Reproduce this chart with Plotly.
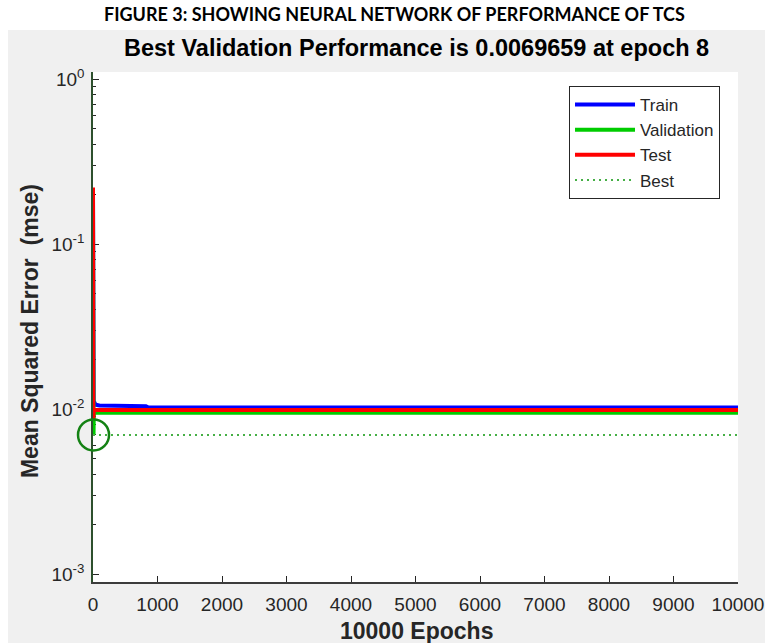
import plotly.graph_objects as go

# ---- data ----
train_epochs = [0, 2, 5, 10, 20, 40, 100, 300, 600, 820, 860, 1500, 3000, 6000, 10000]
train_mse = [0.21, 0.05, 0.013, 0.0112, 0.0110, 0.0106, 0.0105, 0.0105, 0.0105, 0.0104, 0.0102, 0.0102, 0.0102, 0.0102, 0.0102]

val_epochs = [0, 2, 4, 6, 8, 12, 30, 100, 1000, 3000, 6000, 10000]
val_mse = [0.20, 0.0095, 0.0087, 0.0078, 0.0069659, 0.0092, 0.0095, 0.0095, 0.0095, 0.0095, 0.0095, 0.0095]

test_epochs = [0, 2, 4, 8, 12, 30, 100, 1000, 3000, 6000, 10000]
test_mse = [0.22, 0.03, 0.0087, 0.0088, 0.0098, 0.00986, 0.00986, 0.00986, 0.00986, 0.00986, 0.00986]

best_epoch = 8
best_perf = 0.0069659
best_line_epochs = [0, 10000]

x_ticks = [0, 1000, 2000, 3000, 4000, 5000, 6000, 7000, 8000, 9000, 10000]
y_ticks = [1e-3, 1e-2, 1e-1, 1e0]
y_tick_text = ["10<sup>-3</sup>", "10<sup>-2</sup>", "10<sup>-1</sup>", "10<sup>0</sup>"]
y_minor = [m * 10.0 ** e for e in (-3, -2, -1) for m in range(2, 10)]

caption = "FIGURE 3: SHOWING NEURAL NETWORK OF PERFORMANCE OF TCS"
title = "Best Validation Performance is 0.0069659 at epoch 8"
x_title = "10000 Epochs"
y_title = "Mean Squared Error  (mse)"

TXT = "rgb(38,38,38)"
FONT = "Liberation Sans, Arial, sans-serif"

fig = go.Figure()
fig.add_trace(go.Scatter(x=train_epochs, y=train_mse, mode="lines", name="Train",
                         line=dict(color="rgb(0,0,255)", width=4)))
fig.add_trace(go.Scatter(x=val_epochs, y=val_mse, mode="lines", name="Validation",
                         line=dict(color="rgb(0,204,0)", width=4)))
fig.add_trace(go.Scatter(x=test_epochs, y=test_mse, mode="lines", name="Test",
                         line=dict(color="rgb(255,0,0)", width=4)))
fig.add_trace(go.Scatter(x=best_line_epochs, y=[best_perf] * len(best_line_epochs), mode="lines",
                         name="Best", line=dict(color="rgb(70,175,70)", width=2, dash="2px,4px")))
fig.add_trace(go.Scatter(x=[best_epoch], y=[best_perf], mode="markers", showlegend=False,
                         cliponaxis=False,
                         marker=dict(symbol="circle-open", size=31, color="rgb(20,130,20)",
                                     line=dict(width=2.5, color="rgb(20,130,20)"))))

fig.update_layout(
    width=765, height=643,
    margin=dict(l=93, r=27, t=72, b=61, pad=0, autoexpand=False),
    paper_bgcolor="white",
    plot_bgcolor="white",
    font=dict(family=FONT, color=TXT, size=19),
    showlegend=True,
    legend=dict(x=0.738, y=0.9725, xanchor="left", yanchor="top",
                bgcolor="white", bordercolor=TXT, borderwidth=1,
                font=dict(family=FONT, size=17, color=TXT),
                itemwidth=60, tracegroupgap=0),
    shapes=[
        dict(type="rect", xref="paper", yref="paper", x0=-0.1318, x1=1.06, y0=-0.15, y1=1.0824,
             fillcolor="rgb(240,240,240)", line=dict(width=0), layer="below"),
        dict(type="rect", xref="paper", yref="paper", x0=0, x1=1, y0=0, y1=1,
             fillcolor="white", line=dict(width=0), layer="below"),
    ],
    annotations=[
        dict(text="<b>" + caption + "</b>", xref="paper", yref="paper", x=0.4667, y=(582 - 14) / 510,
             xanchor="center", yanchor="middle", showarrow=False,
             font=dict(family="Lato, Noto Sans, sans-serif", size=18, color="black")),
        dict(text="<b>" + title + "</b>", xref="paper", yref="paper", x=0.5008, y=1.048,
             xanchor="center", yanchor="middle", showarrow=False,
             font=dict(family=FONT, size=23.5, color="black")),
        dict(text="<b>" + x_title + "</b>", xref="paper", yref="paper", x=0.502, y=-0.096,
             xanchor="center", yanchor="middle", showarrow=False,
             font=dict(family=FONT, size=23, color=TXT)),
        dict(text="<b>" + y_title + "</b>", xref="paper", yref="paper", x=-0.0977, y=0.492,
             xanchor="center", yanchor="middle", showarrow=False, textangle=-90,
             font=dict(family=FONT, size=23, color=TXT)),
    ],
)

fig.update_xaxes(range=[0, 10000], tickmode="array", tickvals=x_ticks,
                 ticktext=[str(v) for v in x_ticks], automargin=False,
                 ticks="inside", ticklen=6, tickcolor=TXT, tickwidth=1,
                 ticklabelstandoff=4,
                 showline=True, linecolor="rgb(60,60,60)", linewidth=1.5,
                 showgrid=False, zeroline=False, mirror=False, layer="below traces",
                 tickfont=dict(family=FONT, size=19, color=TXT))
fig.update_yaxes(type="log", range=[-3.0485, 0.0424], tickmode="array", tickvals=y_ticks,
                 ticktext=y_tick_text, automargin=False,
                 ticks="inside", ticklen=6, tickcolor=TXT, tickwidth=1,
                 ticklabelstandoff=3,
                 minor=dict(ticks="inside", ticklen=3, tickcolor=TXT, tickmode="array",
                            tickvals=y_minor, showgrid=False),
                 showline=True, linecolor="rgb(45,80,45)", linewidth=1.5,
                 showgrid=False, zeroline=False, mirror=False, layer="below traces",
                 tickfont=dict(family=FONT, size=19, color=TXT))

fig.write_html("out.html")
